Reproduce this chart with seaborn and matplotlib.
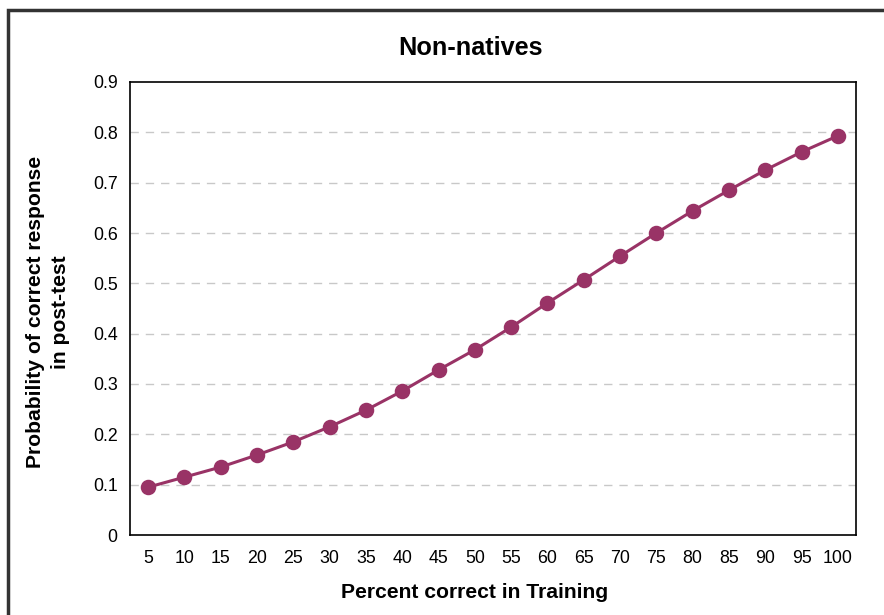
import matplotlib
matplotlib.use("Agg")
import matplotlib.pyplot as plt
import seaborn as sns
import pandas as pd
from matplotlib.patches import Rectangle

categories = [5, 10, 15, 20, 25, 30, 35, 40, 45, 50, 55, 60, 65, 70, 75, 80, 85, 90, 95, 100]
probability = [0.095, 0.115, 0.135, 0.159, 0.185, 0.215, 0.248, 0.286, 0.328, 0.368,
               0.413, 0.461, 0.507, 0.554, 0.600, 0.644, 0.685, 0.725, 0.761, 0.793]
y_ticks = [0, 0.1, 0.2, 0.3, 0.4, 0.5, 0.6, 0.7, 0.8, 0.9]

sns.set_style("white")
plt.rcParams['font.family'] = ['Liberation Sans', 'DejaVu Sans']
for k in ["text.color", "axes.labelcolor", "xtick.color", "ytick.color"]:
    plt.rcParams[k] = "black"

df = pd.DataFrame({"Training": [str(c) for c in categories], "Prob": probability})

W, H = 884, 615
fig = plt.figure(figsize=(W / 100, H / 100), dpi=100)
ax = fig.add_axes([130/W, 80/H, 726/W, 453/H])

color = "#993366"
sns.pointplot(data=df, x="Training", y="Prob", ax=ax, color=color,
              markers="o", markersize=9.5, linewidth=2.2, errorbar=None)

n = len(categories)
ax.set_xlim(-0.5, n - 0.5)
ax.set_ylim(0, 0.9)
ax.set_yticks(y_ticks)
ax.set_yticklabels(["0" if v == 0 else f"{v:.1f}" for v in y_ticks], fontsize=12.8)
ax.set_xticks(range(n))
ax.set_xticklabels([str(c) for c in categories], fontsize=12.8)
ax.set_xticks([i - 0.5 for i in range(n + 1)], minor=True)
ax.tick_params(axis="x", which="major", length=0, pad=11)
ax.tick_params(axis="x", which="minor", length=5, width=1, color="black", direction="out")
ax.tick_params(axis="y", which="major", length=5, width=1, color="black", direction="out", pad=4)

for y in y_ticks[1:-1]:
    ax.axhline(y, color="#c8c8c8", linestyle=(0, (6, 5)), linewidth=1, zorder=0)

for s in ax.spines.values():
    s.set_visible(True)
    s.set_color("black")
    s.set_linewidth(1.2)

ax.set_xlabel("")
ax.set_ylabel("")
fig.text(475/W, 1 - 593/H, "Percent correct in Training", fontsize=15.2, fontweight="bold",
         ha="center", va="center")
fig.text(48/W, 1 - 312/H, "Probability of correct response\nin post-test", fontsize=15.2,
         fontweight="bold", ha="center", va="center", rotation=90, linespacing=1.35,
         multialignment="center")
fig.text(470/W, 1 - 48/H, "Non-natives", fontsize=18.2, fontweight="bold",
         ha="center", va="center")

fig.patches.append(Rectangle((8/W, -0.1), 1.2, (H - 10)/H + 0.1, transform=fig.transFigure,
                             fill=False, edgecolor="#333333", linewidth=2.5))

fig.savefig("out.png", dpi=100)
